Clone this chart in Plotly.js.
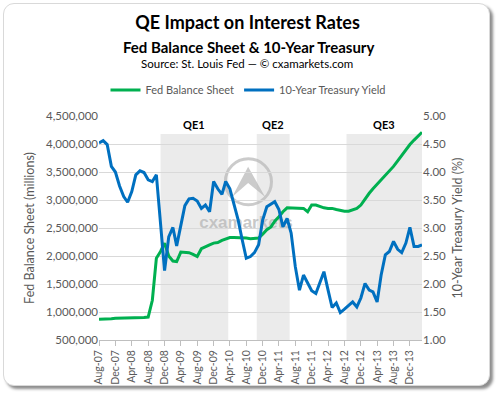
<!DOCTYPE html>
<html>
<head>
<meta charset="utf-8">
<script src="https://cdn.plot.ly/plotly-3.0.1.min.js"></script>
<style>
  html, body { margin: 0; padding: 0; background: #ffffff; }
  #wrap { position: relative; width: 500px; height: 396px; overflow: hidden; background: #fff; }
  #frame { position: absolute; left: 3px; top: 3px; width: 485px; height: 381px;
           border: 1px solid #d9d9d9; border-radius: 11px; background: #fff;
           box-shadow: 3px 3px 3px rgba(0,0,0,0.45); }
  #chart { position: absolute; left: 0; top: 0; width: 500px; height: 396px; }
</style>
</head>
<body>
<div id="wrap"><div id="frame"></div><div id="chart"></div></div>
<script>
// Monthly categories, Aug-2007 .. Mar-2014
const months = [
  '2007-08','2007-09','2007-10','2007-11','2007-12',
  '2008-01','2008-02','2008-03','2008-04','2008-05','2008-06','2008-07','2008-08','2008-09','2008-10','2008-11','2008-12',
  '2009-01','2009-02','2009-03','2009-04','2009-05','2009-06','2009-07','2009-08','2009-09','2009-10','2009-11','2009-12',
  '2010-01','2010-02','2010-03','2010-04','2010-05','2010-06','2010-07','2010-08','2010-09','2010-10','2010-11','2010-12',
  '2011-01','2011-02','2011-03','2011-04','2011-05','2011-06','2011-07','2011-08','2011-09','2011-10','2011-11','2011-12',
  '2012-01','2012-02','2012-03','2012-04','2012-05','2012-06','2012-07','2012-08','2012-09','2012-10','2012-11','2012-12',
  '2013-01','2013-02','2013-03','2013-04','2013-05','2013-06','2013-07','2013-08','2013-09','2013-10','2013-11','2013-12',
  '2014-01','2014-02','2014-03'
];

// Fed balance sheet (millions of $)
const fedBalanceSheet = [
  870000, 870000, 880000, 880000, 890000,
  890000, 890000, 890000, 890000, 890000, 890000, 900000, 910000, 1210000, 1960000, 2080000, 2230000,
  2000000, 1910000, 1900000, 2070000, 2070000, 2060000, 2030000, 1990000, 2130000, 2170000, 2200000, 2230000,
  2240000, 2280000, 2310000, 2330000, 2330000, 2330000, 2320000, 2320000, 2310000, 2310000, 2320000, 2390000,
  2470000, 2520000, 2620000, 2700000, 2790000, 2860000, 2860000, 2860000, 2860000, 2850000, 2790000, 2910000,
  2910000, 2880000, 2860000, 2850000, 2850000, 2830000, 2810000, 2800000, 2800000, 2820000, 2850000, 2910000,
  3020000, 3120000, 3200000, 3280000, 3360000, 3440000, 3520000, 3600000, 3700000, 3800000, 3900000, 3990000,
  4070000, 4140000, 4210000
];

// 10-year Treasury yield (%)
const treasuryYield = [
  4.52, 4.56, 4.49, 4.10, 4.00,
  3.75, 3.56, 3.46, 3.65, 3.95, 4.02, 3.99, 3.86, 3.83, 3.95, 3.14, 2.24,
  2.84, 3.01, 2.68, 3.08, 3.40, 3.52, 3.53, 3.48, 3.35, 3.41, 3.29, 3.83,
  3.70, 3.60, 3.83, 3.70, 3.45, 3.15, 2.80, 2.46, 2.49, 2.56, 2.70, 3.14,
  3.38, 3.42, 3.47, 3.33, 3.02, 3.17, 2.91, 2.31, 1.89, 2.16, 2.01, 1.88,
  1.83, 2.05, 2.22, 1.89, 1.58, 1.66, 1.49, 1.55, 1.61, 1.68, 1.59, 1.75,
  2.01, 1.89, 1.86, 1.68, 2.16, 2.52, 2.58, 2.76, 2.62, 2.56, 2.73, 3.01,
  2.67, 2.67, 2.70
];

// QE programme periods (shaded bands)
const qeNames = ['QE1', 'QE2', 'QE3'];
const qeStart = ['2008-11-01', '2010-10-18', '2012-08-16'];
const qeEnd   = ['2010-03-20', '2011-06-20', '2014-03-01'];

const GREEN = '#00b050', BLUE = '#0070c0', GREY = '#595959';
const FONT = 'Lato, "Open Sans", sans-serif';
const BAND_TOP = 0.92;   // top of shaded bands, fraction of plot height

const traces = [
  { x: months, y: fedBalanceSheet, name: 'Fed Balance Sheet', type: 'scatter', mode: 'lines',
    line: { color: GREEN, width: 3 }, yaxis: 'y' },
  { x: months, y: treasuryYield, name: '10-Year Treasury Yield', type: 'scatter', mode: 'lines',
    line: { color: BLUE, width: 3 }, yaxis: 'y2' }
];

const shapes = [];
const annotations = [];
for (let i = 0; i < qeNames.length; i++) {
  shapes.push({ type: 'rect', xref: 'x', yref: 'paper', x0: qeStart[i], x1: qeEnd[i],
    y0: 0, y1: BAND_TOP, fillcolor: '#ebebeb', line: { width: 0 }, layer: 'below' });
  const mid = (Date.parse(qeStart[i] + 'T00:00:00Z') + Date.parse(qeEnd[i] + 'T00:00:00Z')) / 2;
  annotations.push({ xref: 'x', yref: 'paper', x: mid, y: BAND_TOP, yanchor: 'bottom', yshift: 1,
    text: '<b>' + qeNames[i] + '</b>', showarrow: false, font: { family: FONT, size: 11, color: '#000' } });
}
// watermark logo (plot-area relative), drawn over the bands, under the lines
shapes.push({ type: 'circle', xref: 'paper', yref: 'paper', x0: 0.391, x1: 0.534, y0: 0.604, y1: 0.809,
  line: { color: 'rgba(185,185,185,0.75)', width: 3 }, fillcolor: 'rgba(0,0,0,0)', layer: 'below' });
shapes.push({ type: 'path', xref: 'paper', yref: 'paper',
  path: 'M0.4617,0.7732 L0.5144,0.6384 L0.4617,0.7009 L0.4121,0.6384 Z',
  fillcolor: 'rgba(185,185,185,0.75)', line: { width: 0 }, layer: 'below' });
shapes.push({ type: 'rect', xref: 'paper', yref: 'paper', x0: 0.30, x1: 0.61, y0: 0.49, y1: 0.58,
  line: { width: 0 }, fillcolor: 'rgba(0,0,0,0)', layer: 'below',
  label: { text: '<b>cxamarkets</b>', textposition: 'middle center',
           font: { family: '"Liberation Sans", Arial, sans-serif', size: 17, color: 'rgba(185,185,185,0.8)' } } });

// subtitles (positioned relative to plot area)
annotations.push({ xref: 'paper', yref: 'paper', x: 0.4617, y: 1.310, yanchor: 'middle',
  text: '<b>Fed Balance Sheet &amp; 10-Year Treasury</b>', showarrow: false,
  font: { family: FONT, size: 15, color: '#000' } });
annotations.push({ xref: 'paper', yref: 'paper', x: 0.4586, y: 1.2366, yanchor: 'middle',
  text: 'Source: St. Louis Fed — © cxamarkets.com', showarrow: false,
  font: { family: FONT, size: 11.5, color: '#000' } });

const layout = {
  width: 500, height: 396,
  margin: { l: 99, r: 78, t: 116, b: 56 },
  paper_bgcolor: 'rgba(0,0,0,0)', plot_bgcolor: 'rgba(0,0,0,0)',
  font: { family: FONT, color: GREY },
  title: { text: '<b>QE Impact on Interest Rates</b>', x: 0.495, xanchor: 'center', xref: 'container',
           y: 1 - 23/396, yanchor: 'middle', yref: 'container',
           font: { family: FONT, size: 18, color: '#000' } },
  showlegend: true,
  legend: { orientation: 'h', xref: 'container', yref: 'container', x: 0.497, xanchor: 'center',
            y: 1 - 90/396, yanchor: 'middle', font: { family: FONT, size: 11, color: GREY },
            itemwidth: 30, bgcolor: 'rgba(0,0,0,0)' },
  xaxis: { type: 'date', range: ['2007-08-01', '2014-03-01'], tick0: '2007-08-01', dtick: 'M4',
           tickformat: '%b-%y', tickangle: -90, ticks: 'outside', ticklen: 5, tickcolor: '#bfbfbf',
           showline: true, linecolor: '#bfbfbf', linewidth: 1, showgrid: false, zeroline: false,
           tickfont: { family: FONT, size: 10.5, color: GREY }, fixedrange: true },
  yaxis: { range: [500000, 4500000], dtick: 500000, tick0: 500000, tickformat: ',d',
           showgrid: true, gridcolor: '#d9d9d9', gridwidth: 1, zeroline: false, showline: false,
           ticks: '', tickfont: { family: FONT, size: 11.5, color: GREY },
           title: { text: 'Fed Balance Sheet (millions)', font: { family: FONT, size: 12.5, color: GREY }, standoff: 8 } },
  yaxis2: { overlaying: 'y', side: 'right', range: [1, 5], dtick: 0.5, tick0: 1, tickformat: '.2f',
            showgrid: false, zeroline: false, showline: false, ticks: '',
            tickfont: { family: FONT, size: 11.5, color: GREY },
            title: { text: '10-Year Treasury Yield (%)', font: { family: FONT, size: 12.5, color: GREY }, standoff: 8 } },
  shapes: shapes,
  annotations: annotations
};

Plotly.newPlot('chart', traces, layout, { displayModeBar: false, staticPlot: true });
</script>
</body>
</html>
